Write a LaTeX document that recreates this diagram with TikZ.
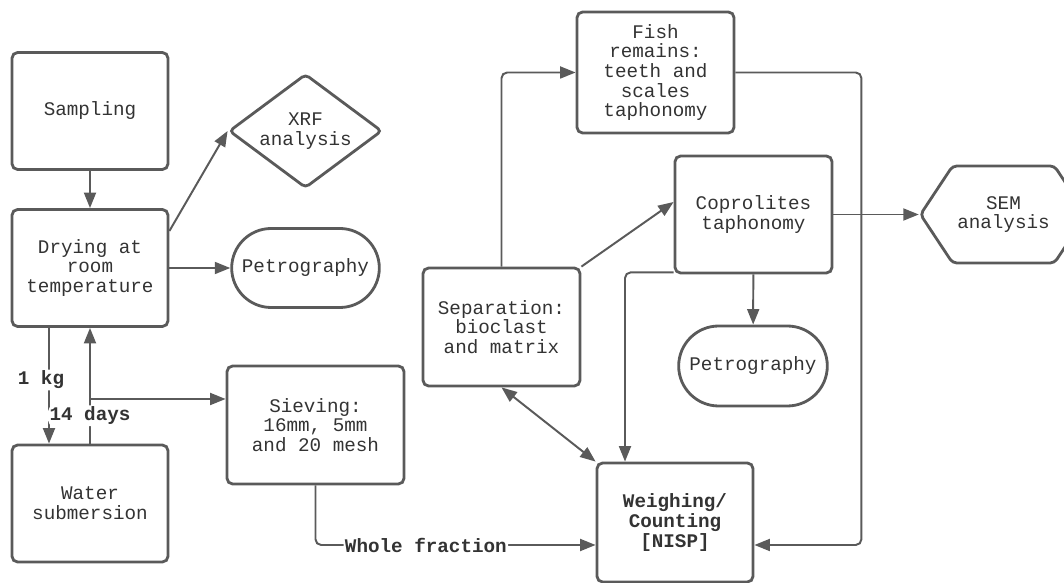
\documentclass[tikz,border=0pt]{standalone}
\usepackage{fontspec}
\setmonofont{Liberation Mono}
\usetikzlibrary{shapes,shapes.geometric,shapes.misc,shapes.symbols,arrows.meta,positioning,calc}
\definecolor{edgegray}{HTML}{5A5A5A}
\definecolor{txtgray}{HTML}{333333}

\begin{document}
\begin{tikzpicture}[
		every node/.style={font=\ttfamily\fontsize{13.7}{14}\selectfont, text=txtgray, align=center},
		box/.style={draw=edgegray, line width=2pt, rounded corners=4pt, minimum width=3.9cm, minimum height=2.925cm, inner sep=0pt},
		pill/.style={draw=edgegray, line width=2pt, rounded rectangle, minimum width=3.925cm, minimum height=1.975cm},
		rhombus/.style={draw=edgegray, line width=2pt, diamond, aspect=1.34, rounded corners=3pt, minimum width=3.825cm, minimum height=2.85cm, inner sep=0pt},
		hexa/.style={draw=edgegray, line width=2pt, signal, signal to=west and east, signal pointer angle=113, rounded corners=3pt, minimum width=3.675cm, minimum height=2.425cm},
		conn/.style={draw=edgegray, line width=1.4pt, rounded corners=4pt, -{Triangle[length=11pt,width=8.5pt]}},
		tag/.style={fill=white, inner sep=1pt, font=\ttfamily\bfseries\fontsize{13.7}{14}\selectfont}
	]
		\useasboundingbox (0,0) rectangle (26.6,14.575);

		% Sample preparation (left column)
		\node[box] (samp) at (2.25,11.8) {Sampling};
		\node[box] (dry) at (2.25,7.875) {Drying at\\room\\temperature};
		\node[box] (water) at (2.25,1.9875) {Water\\submersion};

		% Analyses of the dried sample
		\node[rhombus] (xrf) at (7.6375,11.3) {XRF\\analysis};
		\node[pill] (petroA) at (7.6375,7.875) {Petrography};
		\node[box, minimum width=4.425cm, minimum height=2.95cm] (sieve) at (7.8875,3.95) {Sieving:\\16mm, 5mm\\and 20 mesh};

		% Bioclast branch
		\node[box, minimum width=3.925cm, minimum height=2.95cm] (sep) at (12.5375,6.4) {Separation:\\bioclast\\and matrix};
		\node[box, minimum width=3.925cm, minimum height=3.025cm] (fish) at (16.3875,12.7625) {Fish\\remains:\\teeth and\\scales\\taphonomy};
		\node[box, minimum width=3.925cm] (copro) at (18.8375,9.2125) {Coprolites\\taphonomy};
		\node[hexa] (sem) at (25.0875,9.2125) {SEM\\analysis};
		\node[pill, minimum width=3.95cm, minimum height=2cm] (petroB) at (18.825,5.425) {Petrography};
		\node[box, minimum height=2.975cm, font=\ttfamily\bfseries\fontsize{13.7}{14}\selectfont] (weigh) at (16.875,1.5125) {Weighing/\\Counting\\{}[NISP]};

		% Connectors on the left
		\draw[conn] (samp) -- (dry);
		\draw[conn] (dry.25) -- (xrf.west);
		\draw[conn] (dry) -- (petroA);
		\draw[conn] ([xshift=-1.025cm]dry.south) -- node[tag, pos=0.45, xshift=-0.2cm] {1 kg} ([xshift=-1.025cm]water.north);
		\draw[conn] (water) -- node[tag, pos=0.24] {14 days} (dry);
		\coordinate (sin) at ([yshift=0.65cm]sieve.west);
		\draw[conn] (dry.south |- sin) -- (sin);
		\coordinate (win) at ([yshift=-0.5625cm]weigh.west);
		\draw[conn] (sieve.south) |- node[tag, pos=0.697] {Whole fraction} (win);

		% Connectors on the right
		\draw[conn] (sep.north) |- (fish.west);
		\draw[conn] (sep.north east) -- ([yshift=0.3125cm]copro.west);
		\draw[conn] (copro.east) -- (sem.west);
		\draw[conn] (copro) -- (petroB);
		\draw[conn] ([yshift=0.05cm]copro.south west) -| ([xshift=-1.25cm]weigh.north);
		\draw[conn] (fish.east) -- ++(3.15,0) |- ([yshift=-0.5625cm]weigh.east);
		\draw[conn, {Triangle[length=11pt,width=8.5pt]}-{Triangle[length=11pt,width=8.5pt]}] (sep.south) -- (weigh.north west);
	\end{tikzpicture}
\end{document}
